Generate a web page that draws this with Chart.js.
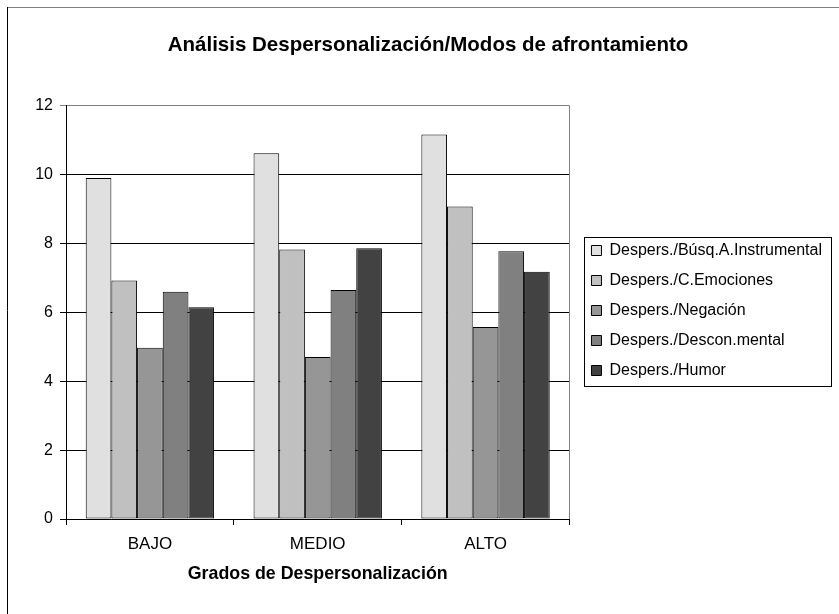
<!DOCTYPE html>
<html>
<head>
<meta charset="utf-8">
<script src="https://cdn.jsdelivr.net/npm/chart.js@4.4.1/dist/chart.umd.min.js"></script>
<style>
    html, body { margin: 0; padding: 0; background: #fff; }
    #wrap { width: 839px; height: 614px; }
</style>
</head>
<body>
<div id="wrap"><canvas id="despChart" width="839" height="614"></canvas></div>
<script>
// Chart data
const categories = ['BAJO', 'MEDIO', 'ALTO'];
const seriesNames = [
    'Despers./Búsq.A.Instrumental',
    'Despers./C.Emociones',
    'Despers./Negación',
    'Despers./Descon.mental',
    'Despers./Humor'
];
const busqInstrumental = [9.9, 10.62, 11.16];
const cEmociones = [6.92, 7.82, 9.07];
const negacion = [4.97, 4.7, 5.57];
const desconMental = [6.6, 6.65, 7.77];
const humor = [6.15, 7.86, 7.18];
const seriesColors = ['#E0E0E0', '#C0C0C0', '#969696', '#808080', '#424242'];

const FONT = 'Arial, "Liberation Sans", sans-serif';

// white page + the cut-off outer frame
const framePlugin = {
    id: 'frame',
    beforeDraw: function(chart) {
        const ctx = chart.ctx;
        ctx.save();
        ctx.fillStyle = '#fff';
        ctx.fillRect(0, 0, chart.width, chart.height);
        ctx.lineWidth = 1;
        ctx.strokeStyle = '#808080';
        ctx.beginPath();
        ctx.moveTo(7, 7.5);
        ctx.lineTo(chart.width, 7.5);
        ctx.stroke();
        ctx.strokeStyle = '#000';
        ctx.beginPath();
        ctx.moveTo(7.5, 7);
        ctx.lineTo(7.5, chart.height);
        ctx.stroke();
        ctx.restore();
    },
    afterDraw: function(chart) {
        // grey right edge of plot area
        const a = chart.chartArea;
        const ctx = chart.ctx;
        ctx.save();
        ctx.strokeStyle = '#808080';
        ctx.lineWidth = 1;
        ctx.beginPath();
        ctx.moveTo(Math.round(a.right) + 0.5, a.top);
        ctx.lineTo(Math.round(a.right) + 0.5, a.bottom);
        ctx.stroke();
        ctx.restore();
    }
};

// nudge legend + title, and draw the box round the legend
const legendBoxPlugin = {
    id: 'legendBox',
    afterLayout: function(chart) {
        const lg = chart.legend;
        if (lg) {
            lg.left += 8;
            lg.right += 8;
            lg.top += 18;
            lg.bottom += 18;
        }
        const tb = chart.titleBlock;
        if (tb) {
            tb.left += 16;
            tb.right += 16;
        }
    },
    afterDraw: function(chart) {
        const lg = chart.legend;
        if (!lg || !lg.legendHitBoxes || !lg.legendHitBoxes.length) return;
        const hb = lg.legendHitBoxes;
        const first = hb[0];
        const last = hb[hb.length - 1];
        let right = 0;
        hb.forEach(b => { right = Math.max(right, b.left + b.width); });
        const x0 = Math.round(first.left - 7) + 0.5;
        const y0 = Math.round(first.top - 6) + 0.5;
        const x1 = Math.round(right + 9) + 0.5;
        const y1 = Math.round(last.top + last.height + 7) + 0.5;
        const ctx = chart.ctx;
        ctx.save();
        ctx.strokeStyle = '#000';
        ctx.lineWidth = 1;
        ctx.strokeRect(x0, y0, x1 - x0, y1 - y0);
        ctx.restore();
    }
};

const seriesData = [busqInstrumental, cEmociones, negacion, desconMental, humor];

const datasets = seriesNames.map((name, i) => ({
    label: name,
    data: seriesData[i],
    backgroundColor: seriesColors[i],
    borderColor: '#000',
    borderWidth: 1,
    borderSkipped: false,
    categoryPercentage: 0.765,
    barPercentage: 1
}));

const ctx = document.getElementById('despChart').getContext('2d');
const chart = new Chart(ctx, {
    type: 'bar',
    data: {
        labels: categories,
        datasets: datasets
    },
    options: {
        responsive: false,
        animation: false,
        layout: {
            padding: { left: 0, right: 15, top: 0, bottom: 29 }
        },
        plugins: {
            title: {
                display: true,
                text: 'Análisis Despersonalización/Modos de afrontamiento',
                color: '#000',
                font: { family: FONT, size: 20.5, weight: 'bold' },
                padding: { top: 33, bottom: 48 }
            },
            legend: {
                position: 'right',
                align: 'center',
                maxWidth: 320,
                labels: {
                    color: '#000',
                    font: { family: FONT, size: 16 },
                    boxWidth: 10,
                    boxHeight: 10,
                    padding: 14
                }
            },
            tooltip: { enabled: false }
        },
        scales: {
            x: {
                afterFit: function(scale) { scale.height = 66; },
                grid: {
                    display: true,
                    drawOnChartArea: false,
                    drawTicks: true,
                    tickLength: 6,
                    color: '#000'
                },
                border: { display: true, color: '#000', width: 1 },
                ticks: {
                    color: '#000',
                    font: { family: FONT, size: 17 },
                    padding: 9,
                    maxRotation: 0
                },
                title: {
                    display: true,
                    text: 'Grados de Despersonalización',
                    color: '#000',
                    font: { family: FONT, size: 17.8, weight: 'bold' },
                    padding: { top: 0, bottom: 0 }
                }
            },
            y: {
                min: 0,
                max: 12,
                afterFit: function(scale) { scale.width = 66; },
                grid: {
                    color: c => (c.tick && c.tick.value === 12 ? '#808080' : '#000'),
                    lineWidth: 1,
                    drawTicks: true,
                    tickLength: 6
                },
                border: { display: true, color: '#000', width: 1 },
                ticks: {
                    stepSize: 2,
                    color: '#000',
                    font: { family: FONT, size: 16 },
                    padding: 7
                }
            }
        }
    },
    plugins: [framePlugin, legendBoxPlugin]
});
</script>
</body>
</html>
